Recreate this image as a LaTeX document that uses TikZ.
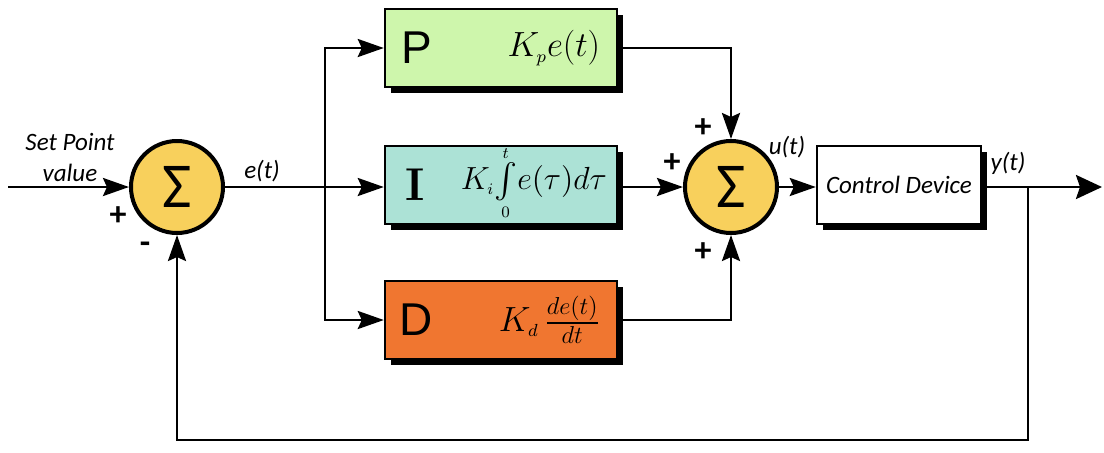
\RequirePackage{fix-cm}
\documentclass[tikz,border=0pt]{standalone}
\usepackage{xcolor}
\usepackage{tikz}
\usepackage{amsmath}
\usepackage{fontspec}
\newfontfamily\calibri{Carlito}
\newfontfamily\arialfont{Liberation Sans}
\definecolor{sumyellow}{RGB}{248, 208, 92}
\definecolor{pgreen}{RGB}{206, 246, 172}
\definecolor{iteal}{RGB}{172, 226, 214}
\definecolor{dorange}{RGB}{240, 118, 48}
\usetikzlibrary{shapes, arrows.meta, positioning, calc, shadows}

\begin{document}
\begin{tikzpicture}[
    x=0.5pt, y=-0.5pt,
    line width=1.4pt,
    sum/.style={circle, draw, line width=2pt, fill=sumyellow, minimum size=46pt, inner sep=0pt, font=\calibri\fontsize{32}{32}\selectfont},
    block/.style={rectangle, draw, line width=1.2pt, minimum width=116pt, minimum height=39pt, drop shadow={shadow xshift=3pt, shadow yshift=-3pt, fill=black, opacity=1}},
    letter/.style={font=\arialfont\fontsize{23}{23}\selectfont},
    formula/.style={font=\fontsize{17.5}{20}\selectfont},
    lbl/.style={font=\calibri\itshape\fontsize{12.5}{15.5}\selectfont},
    sign/.style={font=\calibri\bfseries\fontsize{17}{17}\selectfont},
    sig/.style={-{Stealth[length=13pt, width=9pt, inset=2pt]}}
]
    \useasboundingbox (0,0) rectangle (1104,452);

    \node[sum] (s1) at (177,187) {Σ};
    \node[sum] (s2) at (731,187) {Σ};

    \node[block, fill=pgreen] (p) at (501,48) {};
    \node[letter, right=5pt of p.west] (pl) {P};
    \node[formula, left=5pt of p.east] (pf) {$K_{\scriptscriptstyle p}e(t)$};

    \node[block, fill=iteal] (i) at (501,185) {};
    \node[letter, font=\bfseries\fontsize{23}{24}\selectfont, right=7pt of i.west] (il) {I};
    \node[formula, font=\fontsize{16}{18}\selectfont, inner sep=1pt, left=4pt of i.east] (if) {$K_{\scriptscriptstyle i}\!\mathop{{\textstyle\int}}\limits_{\raisebox{2pt}{$\scriptscriptstyle 0$}}^{\raisebox{-2.5pt}{$\scriptscriptstyle t$}}\!e(\tau)d\tau$};

    \node[block, fill=dorange] (d) at (501,320) {};
    \node[letter, right=4pt of d.west] (dl) {D};
    \node[formula, left=5pt of d.east] (df) {$K_{\scriptscriptstyle d}\,\frac{de(t)}{dt}$};

    \node[block, fill=white, minimum width=82pt, font=\calibri\itshape\fontsize{12.5}{14}\selectfont] (dev) at (899,185) {Control Device};

    \coordinate (in) at (8,187);
    \coordinate (split) at (325,187);
    \coordinate (tap) at (1028,187);
    \coordinate (out) at (1102,187);
    \coordinate (bottom) at (1028,440);

    \draw[sig] (in) -- (s1);
    \draw (s1) -- (split);
    \draw[sig] (split) |- (p.west);
    \draw[sig] (split) -- (split -| i.west);
    \draw[sig] (split) |- (d.west);
    \draw[sig] (p.east) -| (s2.north);
    \draw[sig] (i.east |- s2) -- (s2.west);
    \draw[sig] (d.east) -| (s2.south);
    \draw[sig] (s2) -- (s2 -| dev.west);
    \draw[-{Stealth[length=13pt, width=12pt, inset=2pt]}] (dev.east |- tap) -- (out);
    \draw[sig] (tap) -- (bottom) -| (s1.south);

    \node[lbl, align=center] (setpt) at (70,157) {Set Point\\value};
    \node[sign] (plus1) at (118,216) {+};
    \node[sign] (minus1) at (145,248) {-};
    \node[lbl] (et) at (262,171) {e(t)};
    \node[sign] (plus2) at (703,128) {+};
    \node[sign] (plus3) at (672,163) {+};
    \node[sign] (plus4) at (703,252) {+};
    \node[lbl] (ut) at (787,147) {u(t)};
    \node[lbl] (yt) at (1008,163) {y(t)};

\end{tikzpicture}
\end{document}
